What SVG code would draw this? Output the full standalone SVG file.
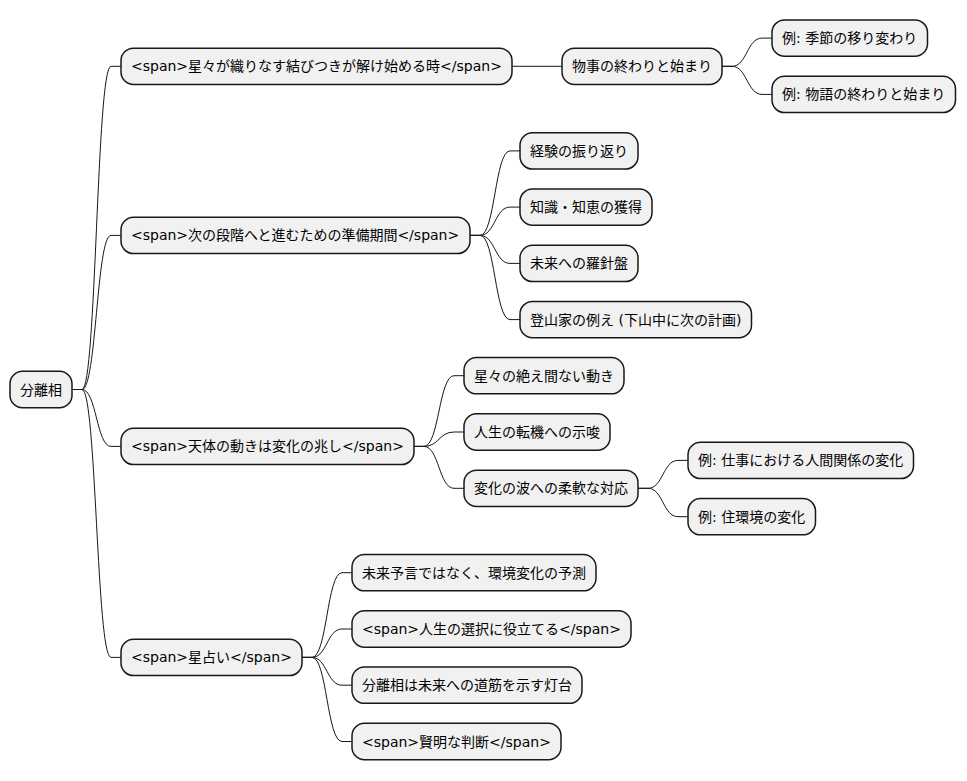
<svg xmlns="http://www.w3.org/2000/svg" width="967" height="781" viewBox="0 0 967 781">
<style>
.n rect{fill:#F1F1F1;stroke:#181818;stroke-width:1.5}
.n text{font-family:"DejaVu Sans","Noto Sans CJK JP",sans-serif;font-size:14px;fill:#000}
#connectors path{fill:none;stroke:#181818;stroke-width:1}
</style>
<rect width="967" height="781" fill="#FFFFFF"/>
<g id="connectors">
<path d="M72 389.5 H82 C96.5 389.5 96.5 66.3 111 66.3 H121"/>
<path d="M72 389.5 H82 C96.5 389.5 96.5 235.4 111 235.4 H121"/>
<path d="M72 389.5 H82 C96.5 389.5 96.5 446.4 111 446.4 H121"/>
<path d="M72 389.5 H82 C96.5 389.5 96.5 657.4 111 657.4 H121"/>
<path d="M512 66.3 H562"/>
<path d="M722 66.3 H732 C747 66.3 747 38.1 762 38.1 H772"/>
<path d="M722 66.3 H732 C747 66.3 747 94.4 762 94.4 H772"/>
<path d="M470 235.4 H480 C495 235.4 495 150.9 510 150.9 H520"/>
<path d="M470 235.4 H480 C495 235.4 495 207.1 510 207.1 H520"/>
<path d="M470 235.4 H480 C495 235.4 495 263.4 510 263.4 H520"/>
<path d="M470 235.4 H480 C495 235.4 495 319.6 510 319.6 H520"/>
<path d="M414 446.4 H424 C439 446.4 439 375.7 454 375.7 H464"/>
<path d="M414 446.4 H424 C439 446.4 439 432 454 432 H464"/>
<path d="M414 446.4 H424 C439 446.4 439 488.3 454 488.3 H464"/>
<path d="M638 488.3 H648 C663 488.3 663 460.4 678 460.4 H688"/>
<path d="M638 488.3 H648 C663 488.3 663 516.7 678 516.7 H688"/>
<path d="M302 657.4 H312 C327 657.4 327 572.7 342 572.7 H352"/>
<path d="M302 657.4 H312 C327 657.4 327 629 342 629 H352"/>
<path d="M302 657.4 H312 C327 657.4 327 685.2 342 685.2 H352"/>
<path d="M302 657.4 H312 C327 657.4 327 741.5 342 741.5 H352"/>
</g>
<g id="root" class="n"><rect x="10" y="371.35" width="62" height="36.3" rx="12.5"/><text x="20" y="394.5">分離相</text></g>
<g id="n1" class="n"><rect x="121" y="48.15" width="391" height="36.3" rx="12.5"/><text x="131" y="71.3">&lt;span&gt;星々が織りなす結びつきが解け始める時&lt;/span&gt;</text></g>
<g id="n1a" class="n"><rect x="562" y="48.15" width="160" height="36.3" rx="12.5"/><text x="572" y="71.3">物事の終わりと始まり</text></g>
<g id="n1a1" class="n"><rect x="772" y="19.95" width="155.5" height="36.3" rx="12.5"/><text x="782" y="43.1">例: 季節の移り変わり</text></g>
<g id="n1a2" class="n"><rect x="772" y="76.25" width="183.5" height="36.3" rx="12.5"/><text x="782" y="99.4">例: 物語の終わりと始まり</text></g>
<g id="n2" class="n"><rect x="121" y="217.25" width="349" height="36.3" rx="12.5"/><text x="131" y="240.4">&lt;span&gt;次の段階へと進むための準備期間&lt;/span&gt;</text></g>
<g id="n2a" class="n"><rect x="520" y="132.75" width="118" height="36.3" rx="12.5"/><text x="530" y="155.9">経験の振り返り</text></g>
<g id="n2b" class="n"><rect x="520" y="188.95" width="132" height="36.3" rx="12.5"/><text x="530" y="212.1">知識・知恵の獲得</text></g>
<g id="n2c" class="n"><rect x="520" y="245.25" width="118" height="36.3" rx="12.5"/><text x="530" y="268.4">未来への羅針盤</text></g>
<g id="n2d" class="n"><rect x="520" y="301.45" width="231.5" height="36.3" rx="12.5"/><text x="530" y="324.6">登山家の例え (下山中に次の計画)</text></g>
<g id="n3" class="n"><rect x="121" y="428.25" width="293" height="36.3" rx="12.5"/><text x="131" y="451.4">&lt;span&gt;天体の動きは変化の兆し&lt;/span&gt;</text></g>
<g id="n3a" class="n"><rect x="464" y="357.55" width="160" height="36.3" rx="12.5"/><text x="474" y="380.7">星々の絶え間ない動き</text></g>
<g id="n3b" class="n"><rect x="464" y="413.85" width="146" height="36.3" rx="12.5"/><text x="474" y="437">人生の転機への示唆</text></g>
<g id="n3c" class="n"><rect x="464" y="470.15" width="174" height="36.3" rx="12.5"/><text x="474" y="493.3">変化の波への柔軟な対応</text></g>
<g id="n3c1" class="n"><rect x="688" y="442.25" width="225.5" height="36.3" rx="12.5"/><text x="698" y="465.4">例: 仕事における人間関係の変化</text></g>
<g id="n3c2" class="n"><rect x="688" y="498.55" width="127.5" height="36.3" rx="12.5"/><text x="698" y="521.7">例: 住環境の変化</text></g>
<g id="n4" class="n"><rect x="121" y="639.25" width="181" height="36.3" rx="12.5"/><text x="131" y="662.4">&lt;span&gt;星占い&lt;/span&gt;</text></g>
<g id="n4a" class="n"><rect x="352" y="554.55" width="244" height="36.3" rx="12.5"/><text x="362" y="577.7">未来予言ではなく、環境変化の予測</text></g>
<g id="n4b" class="n"><rect x="352" y="610.85" width="279" height="36.3" rx="12.5"/><text x="362" y="634">&lt;span&gt;人生の選択に役立てる&lt;/span&gt;</text></g>
<g id="n4c" class="n"><rect x="352" y="667.05" width="230" height="36.3" rx="12.5"/><text x="362" y="690.2">分離相は未来への道筋を示す灯台</text></g>
<g id="n4d" class="n"><rect x="352" y="723.35" width="209" height="36.3" rx="12.5"/><text x="362" y="746.5">&lt;span&gt;賢明な判断&lt;/span&gt;</text></g>
</svg>
